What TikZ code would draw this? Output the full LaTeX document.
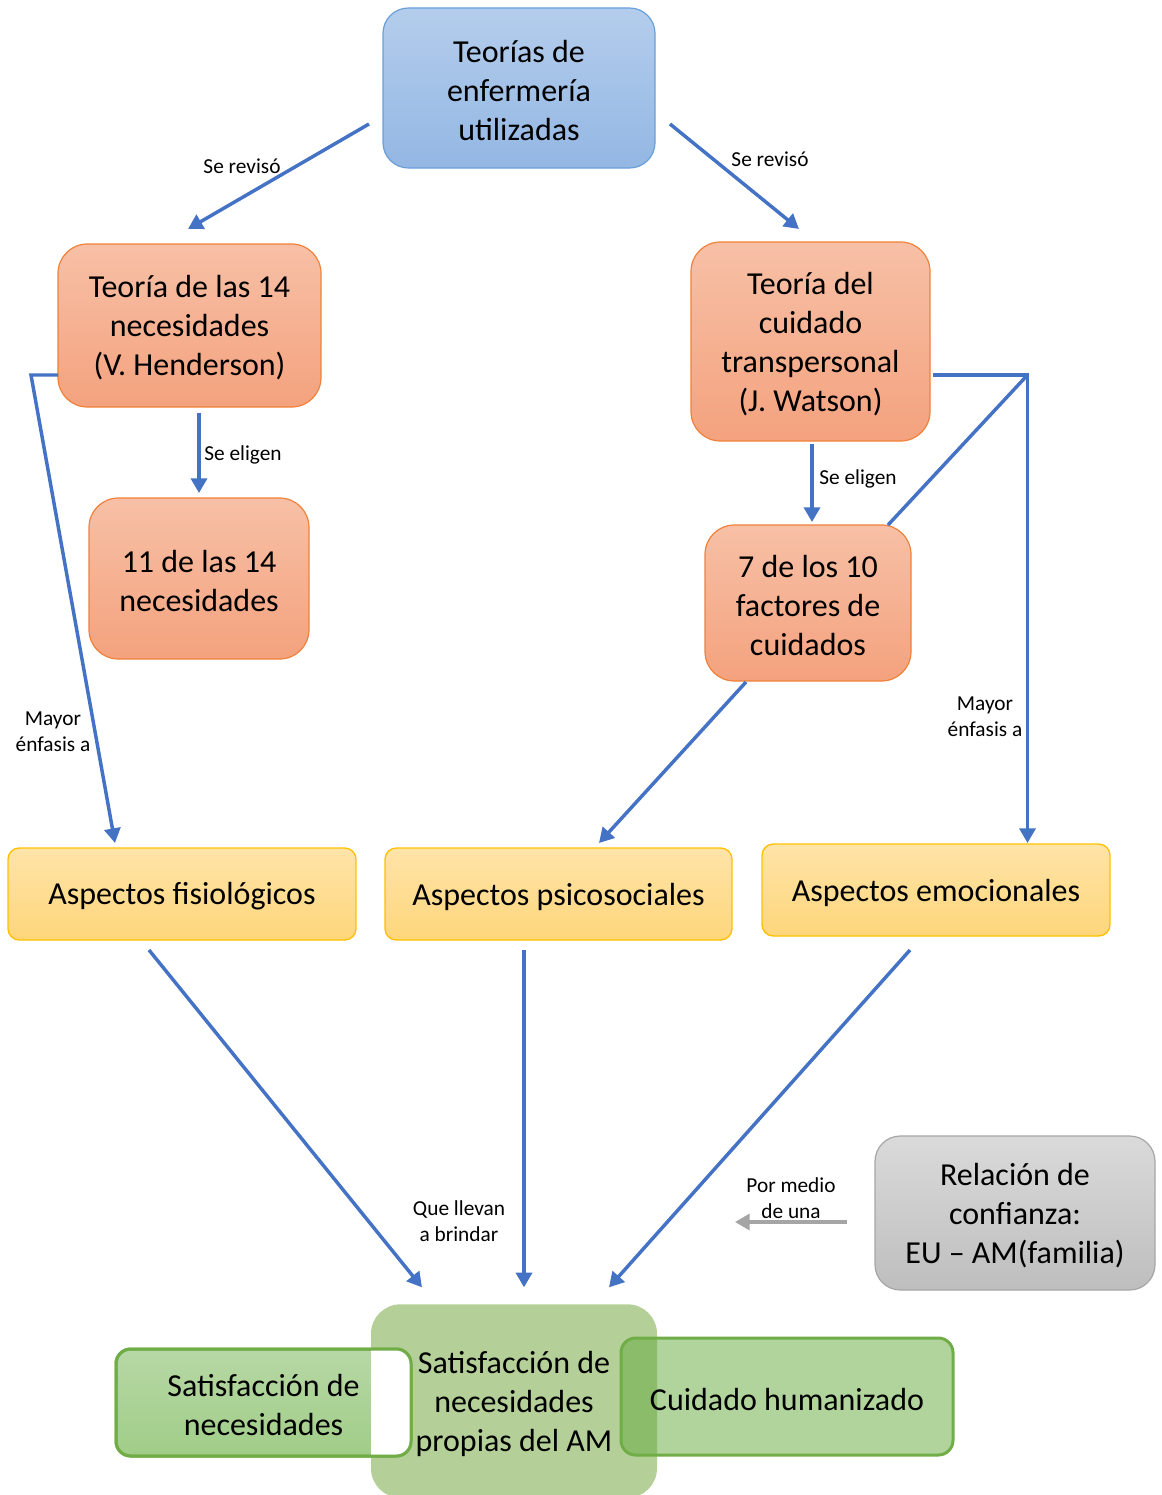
\documentclass[tikz,border=0pt]{standalone}
\usepackage{fontspec}
\setmainfont{Carlito}
\usetikzlibrary{arrows.meta,calc}

\definecolor{bluetop}{HTML}{B4CDEC}
\definecolor{bluebot}{HTML}{93B7E3}
\definecolor{blueedge}{HTML}{6A9FD8}
\definecolor{orangetop}{HTML}{F7C0A6}
\definecolor{orangebot}{HTML}{F4A27E}
\definecolor{orangeedge}{HTML}{F0813A}
\definecolor{yellowtop}{HTML}{FFE4A8}
\definecolor{yellowbot}{HTML}{FED67B}
\definecolor{yellowedge}{HTML}{FFC000}
\definecolor{graytop}{HTML}{DADADA}
\definecolor{graybot}{HTML}{BEBEBE}
\definecolor{grayedge}{HTML}{A6A6A6}
\definecolor{linkblue}{HTML}{4472C4}
\definecolor{linkgray}{HTML}{A5A5A5}
\definecolor{greenedge}{HTML}{70AD47}
\definecolor{greentop}{HTML}{B7D8A5}
\definecolor{greenbot}{HTML}{A0CD88}
\definecolor{greenmid}{HTML}{B4D098}
\definecolor{greenveil}{RGB}{100,170,60}

\begin{document}
\begin{tikzpicture}[x=0.75pt,y=-0.75pt,
  base/.style={align=center, inner sep=0pt, outer sep=0pt, text=black,
    font=\fontsize{24}{29.25}\selectfont},
  boxtext/.style={align=center, inner sep=0pt, text=black, text opacity=1,
    font=\fontsize{24}{29.25}\selectfont, yshift=-1.9pt},
  bluebox/.style={base, draw=blueedge, line width=0.9pt,
    top color=bluetop, bottom color=bluebot, rounded corners=19pt},
  orangebox/.style={base, draw=orangeedge, line width=0.9pt,
    top color=orangetop, bottom color=orangebot, rounded corners=22pt},
  yellowbox/.style={base, draw=yellowedge, line width=1pt,
    top color=yellowtop, bottom color=yellowbot, rounded corners=8.5pt},
  graybox/.style={base, draw=grayedge, line width=0.9pt,
    top color=graytop, bottom color=graybot, rounded corners=19pt},
  link/.style={draw=linkblue, line width=2.6pt,
    -{Triangle[length=11pt,width=12pt]}},
  plainlink/.style={draw=linkblue, line width=2.6pt},
  graylink/.style={draw=linkgray, line width=2.6pt,
    -{Triangle[length=11pt,width=12pt]}},
  lbl/.style={font=\fontsize{16}{19.5}\selectfont, align=center,
    inner sep=0pt, text=black}]

\useasboundingbox (0,0) rectangle (1161,1495);

% theories
\node[bluebox, minimum width=204pt, minimum height=120pt,
  label={[boxtext]center:{Teorías de\\enfermería\\utilizadas}}] (top) at (519,88) {};
\node[orangebox, minimum width=197.25pt, minimum height=122.25pt,
  label={[boxtext]center:{Teoría de las 14\\necesidades\\(V. Henderson)}}]
  (hend) at (189.5,325.5) {};
\node[orangebox, minimum width=165pt, minimum height=120.75pt,
  label={[boxtext]center:{11 de las 14\\necesidades}}] (once) at (199,578.5) {};
\node[orangebox, minimum width=179.25pt, minimum height=149.25pt,
  label={[boxtext]center:{Teoría del\\cuidado\\transpersonal\\(J. Watson)}}]
  (wats) at (810.5,341.5) {};
\node[orangebox, minimum width=154.5pt, minimum height=117pt,
  label={[boxtext]center:{7 de los 10\\factores de\\cuidados}}] (siete) at (808,603) {};

% aspects
\node[yellowbox, minimum width=261pt, minimum height=69pt,
  label={[boxtext]center:{Aspectos fisiológicos}}] (fis) at (182,894) {};
\node[yellowbox, minimum width=260.25pt, minimum height=69pt,
  label={[boxtext]center:{Aspectos psicosociales}}] (psi) at (558.5,894) {};
\node[yellowbox, minimum width=261pt, minimum height=69pt,
  label={[boxtext]center:{Aspectos emocionales}}] (emo) at (936,890) {};

% trust relation
\node[graybox, minimum width=210pt, minimum height=115.5pt,
  label={[boxtext]center:{Relación de\\confianza:\\EU -- AM(familia)}}]
  (rel) at (1015,1213) {};

% outcomes
\node[base, fill=greenmid, rounded corners=22pt, minimum width=214.5pt,
  minimum height=145pt,
  label={[boxtext]center:{Satisfacción de\\necesidades\\propias del AM}}]
  (mid) at (514,1401) {};
\node[base, draw=greenedge, line width=2.25pt, top color=greentop,
  bottom color=greenbot, rounded corners=11pt, minimum width=221.25pt,
  minimum height=80.25pt,
  label={[boxtext]center:{Satisfacción de\\necesidades}}] (sat) at (263.5,1402.5) {};
\begin{scope}
  \clip ($(mid.west |- sat.north)+(0,-6)$) rectangle ($(sat.south east)+(6,6)$);
  \fill[white, rounded corners=11pt] (sat.north west) rectangle (sat.south east);
\end{scope}
\draw[greenedge, line width=2.25pt, rounded corners=11pt]
  (sat.north west) rectangle (sat.south east);
\node[base, draw=greenedge, line width=2.25pt, fill=greenveil, fill opacity=0.5,
  draw opacity=1, text opacity=1, rounded corners=11pt, minimum width=249pt,
  minimum height=87.75pt,
  label={[boxtext]center:{Cuidado humanizado}}] (cuid) at (787,1396.5) {};

% connectors
\draw[link] ($(top.west)+(-14,36)$) -- ($(hend.north)+(-1.5,-15)$);
\draw[link] ($(top.east)+(15,36)$) -- ($(wats.north)+(-11.5,-13)$);
\draw[link] ($(hend.south)+(9.5,6)$) -- ($(once.north)+(0,-5)$);
\draw[link] ($(wats.south)+(1.5,3)$) -- ($(siete.north)+(4,-3)$);
\draw[link] ($(hend.west)+(0,49.5)$) -- ++(-27,0) -- ($(fis.north)+(-67,-5)$);
\coordinate (wcorner) at ($(wats.east)+(97.5,33.5)$);
\draw[link] ($(wats.east)+(3,33.5)$) -- (wcorner)
  -- ($(wcorner |- emo.north)+(0,-1)$);
\draw[plainlink] (wcorner) -- ($(siete.north east)+(-23,0)$);
\draw[link] ($(siete.south west)+(41,1)$) -- ($(psi.north)+(40.5,-5)$);
\draw[link] ($(fis.south)+(-33,10)$) -- ($(mid.north)+(-92,-17)$);
\draw[link] ($(psi.south)+(-34.5,10)$) -- ($(mid.north)+(10,-17)$);
\draw[link] ($(emo.south)+(-26,14)$) -- ($(mid.north)+(95,-17)$);
\draw[graylink] ($(rel.west)+(-28,9)$) -- ($(rel.west)+(-140,9)$);

% connector labels
\node[lbl] (l1) at (242,166) {Se revisó};
\node[lbl] (l2) at (770,159) {Se revisó};
\node[lbl] (l3) at (243,455) {Se eligen};
\node[lbl] (l4) at (858,479) {Se eligen};
\node[lbl] (l5) at (53,732) {Mayor\\énfasis a};
\node[lbl] (l6) at (985,717) {Mayor\\énfasis a};
\node[lbl] (l7) at (459,1221) {Que llevan\\a brindar};
\node[lbl] (l8) at (791,1198) {Por medio\\de una};

\end{tikzpicture}
\end{document}
